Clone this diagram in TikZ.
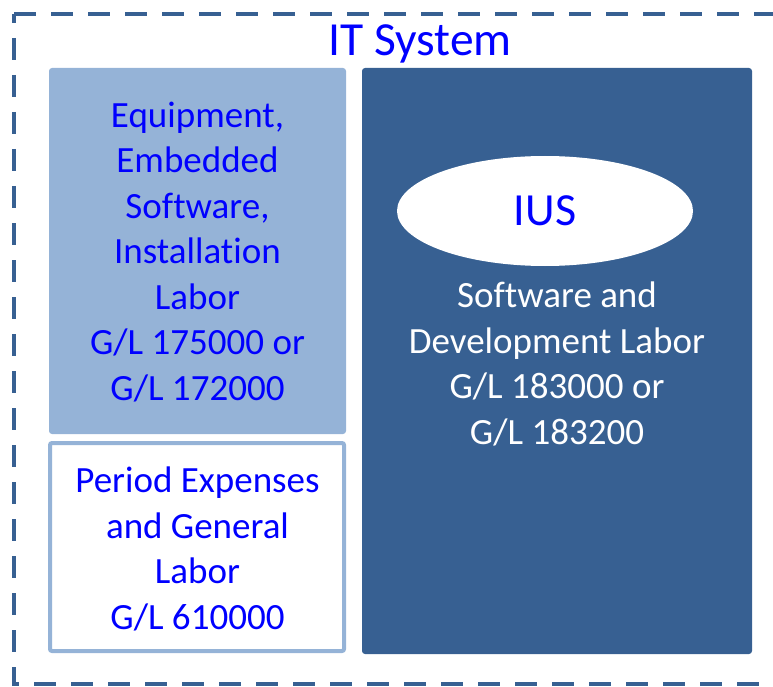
\documentclass[tikz,border=0pt]{standalone}
\usepackage{fontspec}
\setmainfont{Carlito}[Ligatures=NoCommon]
\usetikzlibrary{shapes.geometric}
\definecolor{darkblue}{HTML}{376092}
\definecolor{lightblue}{HTML}{95B3D7}
\definecolor{txtblue}{HTML}{0000FF}
\begin{document}
\begin{tikzpicture}[x=1pt,y=-1pt,
  border/.style={draw=darkblue,line width=4pt,dash pattern=on 22pt off 15pt},
  bodytext/.style={font=\fontsize{37}{45.5}\selectfont,align=center,inner sep=0pt},
  ]
\useasboundingbox (0,0) rectangle (773,687);
% dashed frame (clipped at right)
\begin{scope}
\clip (0,0) rectangle (773,687);
\draw[border] (14,14) -- (800,14);
\draw[border,dash phase=13pt] (14,14) -- (14,684) -- (800,684);
\end{scope}
\node[font=\fontsize{47.5}{56}\selectfont,text=txtblue,inner sep=0pt] (title) at (420,44) {IT System};
% boxes
\fill[lightblue,rounded corners=3pt] (49,68) rectangle (346,434);
\node[bodytext,text=txtblue] (equip) at (197.5,252) {Equipment,\\Embedded\\Software,\\Installation\\Labor\\G/L 175000 or\\G/L 172000};
\draw[lightblue,line width=4pt,fill=white,rounded corners=2pt] (50,443) rectangle (344,651);
\node[bodytext,text=txtblue] (period) at (197.5,549) {Period Expenses\\and General\\Labor\\G/L 610000};
\fill[darkblue,rounded corners=3pt] (362,68) rectangle (752,654);
\node[ellipse,fill=white,minimum width=296pt,minimum height=110pt,inner sep=0pt] (ius) at (545,211) {};
\node[font=\fontsize{46}{54}\selectfont,text=txtblue,inner sep=0pt] (iuslabel) at (ius.center) {IUS};
\node[bodytext,text=white] (software) at (557,364) {Software and\\Development Labor\\G/L 183000 or\\G/L 183200};
\end{tikzpicture}
\end{document}
